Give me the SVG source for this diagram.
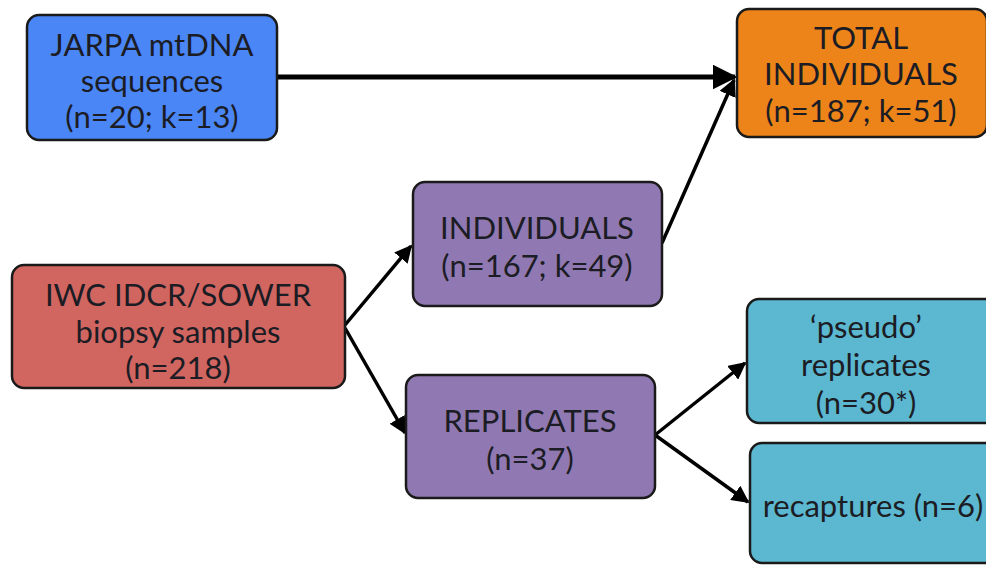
<svg xmlns="http://www.w3.org/2000/svg" width="986" height="565" viewBox="0 0 986 565">
<defs>
<style>
.box{stroke:#1a1a1a;stroke-width:2.5}
.t{font-family:Lato,"Liberation Sans",sans-serif;font-size:31px;fill:#1c1c24;text-anchor:middle;dominant-baseline:central}
.c{stroke:#000;stroke-width:3.5;fill:none}
</style>
<marker id="ah" viewBox="0 0 10 10" refX="9" refY="5" markerWidth="5" markerHeight="5" markerUnits="strokeWidth" orient="auto">
<path d="M0,0 L10,5 L0,10 z" fill="#000"/>
</marker>
</defs>
<rect width="986" height="565" fill="#fff"/>
<g id="connectors">
<line class="c" x1="277" y1="77" x2="735" y2="77" style="stroke-width:5" marker-end="url(#ah)"/>
<line class="c" x1="662" y1="243" x2="734" y2="80" marker-end="url(#ah)"/>
<line class="c" x1="345" y1="325" x2="411" y2="246" marker-end="url(#ah)"/>
<line class="c" x1="345" y1="328" x2="405" y2="433" marker-end="url(#ah)"/>
<line class="c" x1="655" y1="435" x2="745" y2="363" marker-end="url(#ah)"/>
<line class="c" x1="655" y1="435" x2="748" y2="502" marker-end="url(#ah)"/>
</g>
<g id="jarpa">
<rect class="box" x="27" y="15" width="250" height="125" rx="12" fill="#4A86F5"/>
<text class="t" x="152" y="44">JARPA mtDNA</text>
<text class="t" x="152" y="80">sequences</text>
<text class="t" x="152" y="116">(n=20; k=13)</text>
</g>
<g id="total">
<rect class="box" x="737" y="9" width="250" height="128" rx="12" fill="#EC8419"/>
<text class="t" x="861" y="37">TOTAL</text>
<text class="t" x="861" y="73">INDIVIDUALS</text>
<text class="t" x="861" y="110">(n=187; k=51)</text>
</g>
<g id="iwc">
<rect class="box" x="12" y="265" width="333" height="123" rx="12" fill="#D16661"/>
<text class="t" x="178" y="294">IWC IDCR/SOWER</text>
<text class="t" x="178" y="331">biopsy samples</text>
<text class="t" x="178" y="367">(n=218)</text>
</g>
<g id="individuals">
<rect class="box" x="413" y="182" width="249" height="124" rx="12" fill="#9079B2"/>
<text class="t" x="537" y="227">INDIVIDUALS</text>
<text class="t" x="537" y="265">(n=167; k=49)</text>
</g>
<g id="replicates">
<rect class="box" x="406" y="375" width="249" height="123" rx="12" fill="#9079B2"/>
<text class="t" x="530" y="420">REPLICATES</text>
<text class="t" x="530" y="458">(n=37)</text>
</g>
<g id="pseudo">
<rect class="box" x="747" y="299" width="250" height="124" rx="12" fill="#5BB8D0"/>
<text class="t" x="866" y="326">‘pseudo’</text>
<text class="t" x="866" y="364">replicates</text>
<text class="t" x="866" y="402">(n=30*)</text>
</g>
<g id="recaptures">
<rect class="box" x="750" y="443" width="250" height="120" rx="12" fill="#5BB8D0"/>
<text class="t" x="873" y="505">recaptures (n=6)</text>
</g>
</svg>
